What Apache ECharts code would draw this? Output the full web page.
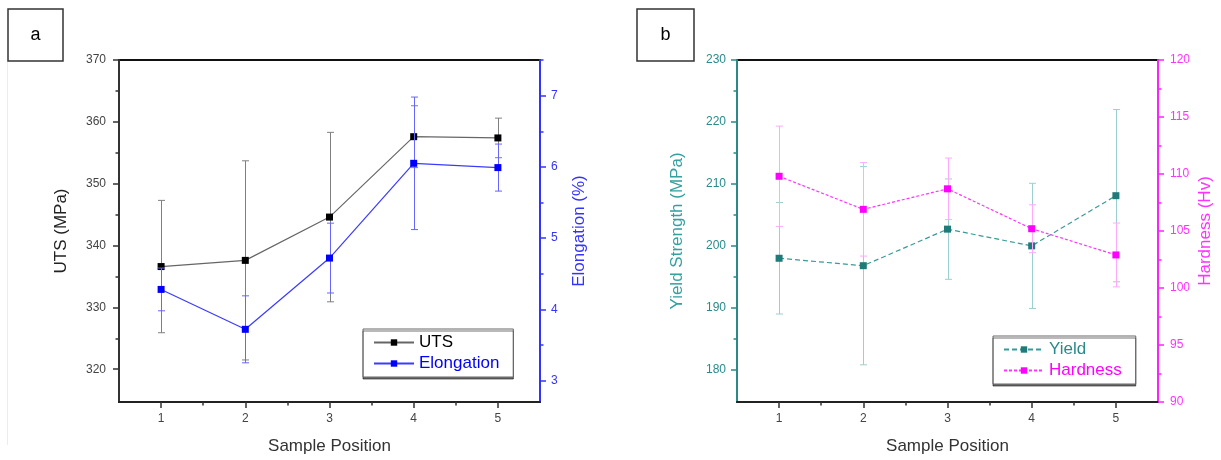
<!DOCTYPE html>
<html><head><meta charset="utf-8">
<script src="https://cdn.jsdelivr.net/npm/echarts@6/dist/echarts.min.js"></script>
<style>html,body{margin:0;padding:0;background:#fff}#c{width:1221px;height:460px}</style>
</head><body><div id="c"></div>
<script>
// ---------- data ----------
const positions = [1, 2, 3, 4, 5];
const utsValues = [336.6, 337.6, 344.6, 357.6, 357.4];
const utsErrors = [10.7, 16.1, 13.7, 5.0, 3.2];
const elongValues = [4.28, 3.72, 4.72, 6.05, 5.99];
const elongErrors = [0.30, 0.47, 0.49, 0.93, 0.33];
const yieldValues = [198.0, 196.8, 202.7, 200.0, 208.1];
const yieldErrors = [9.0, 16.0, 8.1, 10.1, 13.9];
const hardnessValues = [109.8, 106.9, 108.7, 105.2, 102.9];
const hardnessErrors = [4.4, 4.1, 2.7, 2.1, 2.8];

// tick labels
const positionTicks = [1, 2, 3, 4, 5];
const positionMinor = [1.5, 2.5, 3.5, 4.5];
const utsTicks = [320, 330, 340, 350, 360, 370];
const utsMinor = [325, 335, 345, 355, 365];
const elongTicks = [3, 4, 5, 6, 7];
const elongMinor = [3.5, 4.5, 5.5, 6.5, 7.5];
const yieldTicks = [180, 190, 200, 210, 220, 230];
const yieldMinor = [185, 195, 205, 215, 225];
const hardnessTicks = [90, 95, 100, 105, 110, 115, 120];
const hardnessMinor = [92.5, 97.5, 102.5, 107.5, 112.5, 117.5];

// ---------- chart ----------
const FONT = 'Liberation Sans, Arial, sans-serif';
const chart = echarts.init(document.getElementById('c'), null, {renderer: 'canvas'});

function xMajor(g) {
  return {
    type: 'value', gridIndex: g, min: 0.5, max: 5.5, position: 'bottom',
    axisLine: {show: true, lineStyle: {color: '#222', width: 2}},
    axisTick: {show: true, customValues: positionTicks, length: 6, lineStyle: {color: '#333', width: 1.5}},
    axisLabel: {customValues: positionTicks, margin: 11, fontSize: 12, color: '#444', fontFamily: FONT},
    splitLine: {show: false},
    name: 'Sample Position', nameLocation: 'middle', nameGap: 36,
    nameTextStyle: {fontSize: 17, color: '#333', fontFamily: FONT}
  };
}
function xMinor(g) {
  return {
    type: 'value', gridIndex: g, min: 0.5, max: 5.5, position: 'bottom',
    axisLine: {show: false},
    axisTick: {show: true, customValues: positionMinor, length: 3.5, lineStyle: {color: '#333', width: 1.5}},
    axisLabel: {show: false}, splitLine: {show: false}
  };
}
function yMajor(g, pos, min, max, ticks, lineColor, labelColor, name, nameGap, nameColor, margin) {
  return {
    type: 'value', gridIndex: g, position: pos, min: min, max: max,
    axisLine: {show: true, lineStyle: {color: lineColor, width: 2}},
    axisTick: {show: true, customValues: ticks, length: 6, lineStyle: {color: lineColor, width: 1.5}},
    axisLabel: {customValues: ticks, margin: margin, fontSize: 12, color: labelColor, fontFamily: FONT},
    splitLine: {show: false},
    name: name, nameLocation: 'middle', nameRotate: 90, nameGap: nameGap,
    nameTextStyle: {fontSize: 17, color: nameColor, fontFamily: FONT}
  };
}
function yMinor(g, pos, min, max, ticks, lineColor) {
  return {
    type: 'value', gridIndex: g, position: pos, min: min, max: max,
    axisLine: {show: false},
    axisTick: {show: true, customValues: ticks, length: 3.5, lineStyle: {color: lineColor, width: 1.5}},
    axisLabel: {show: false}, splitLine: {show: false}
  };
}
function errorBars(name, values, errors, xi, yi, color, z) {
  return {
    type: 'custom', name: name, xAxisIndex: xi, yAxisIndex: yi, silent: true, z: z,
    data: positions.map((p, i) => [p, values[i] - errors[i], values[i] + errors[i]]),
    encode: {x: 0, y: [1, 2]},
    renderItem: function (params, api) {
      const lo = api.coord([api.value(0), api.value(1)]);
      const hi = api.coord([api.value(0), api.value(2)]);
      const x = Math.round(lo[0]) + 0.5;
      const cap = 3.5;
      const st = {stroke: color, lineWidth: 1};
      return {type: 'group', children: [
        {type: 'line', shape: {x1: x, y1: lo[1], x2: x, y2: hi[1]}, style: st},
        {type: 'line', shape: {x1: x - cap, y1: lo[1], x2: x + cap, y2: lo[1]}, style: st},
        {type: 'line', shape: {x1: x - cap, y1: hi[1], x2: x + cap, y2: hi[1]}, style: st}
      ]};
    }
  };
}
function lineSeries(name, values, xi, yi, lineColor, markerColor, dash, z) {
  return {
    type: 'line', name: name, xAxisIndex: xi, yAxisIndex: yi, z: z,
    data: positions.map((p, i) => [p, values[i]]),
    symbol: 'rect', symbolSize: 7,
    lineStyle: {color: lineColor, width: 1.2, type: dash},
    itemStyle: {color: markerColor},
    emphasis: {disabled: true}
  };
}
function legend(left, top, items) {
  return {
    orient: 'vertical', left: left, top: top,
    data: items,
    itemWidth: 40, itemHeight: 8, itemGap: 4, itemTextGap: 5,
    padding: [5, 14, 5, 10],
    backgroundColor: '#fff', borderColor: '#666', borderWidth: 1,
    shadowColor: 'rgba(0,0,0,0.55)', shadowOffsetY: 2, shadowBlur: 0,
    textStyle: {fontSize: 17, fontFamily: FONT},
    selectedMode: false
  };
}

const UTS_C = '#000000', ELO_C = '#0000ff', YLD_C = '#1f7a7a', HRD_C = '#ff00ff';

const option = {
  animation: false,
  backgroundColor: '#ffffff',
  grid: [
    {left: 119, top: 60, width: 421, height: 343, show: true, borderColor: '#111', borderWidth: 2, backgroundColor: 'transparent'},
    {left: 737, top: 60, width: 421, height: 342, show: true, borderColor: '#111', borderWidth: 2, backgroundColor: 'transparent'}
  ],
  xAxis: [xMajor(0), xMinor(0), xMajor(1), xMinor(1)],
  yAxis: [
    yMajor(0, 'left', 314.7, 370, utsTicks, '#333', '#444', 'UTS (MPa)', 49, '#222', 13),
    yMajor(0, 'right', 2.7, 7.5, elongTicks, '#3333ff', '#3333ff', 'Elongation (%)', 31, '#3333ff', 11),
    yMinor(0, 'left', 314.7, 370, utsMinor, '#333'),
    yMinor(0, 'right', 2.7, 7.5, elongMinor, '#3333ff'),
    yMajor(1, 'left', 174.8, 230, yieldTicks, '#2a8a8a', '#2a8a8a', 'Yield Strength (MPa)', 51, '#35a0a0', 11),
    yMajor(1, 'right', 90, 120, hardnessTicks, '#ff22ff', '#ff33ff', 'Hardness (Hv)', 39, '#ff33ff', 12),
    yMinor(1, 'left', 174.8, 230, yieldMinor, '#2a8a8a'),
    yMinor(1, 'right', 90, 120, hardnessMinor, '#ff22ff')
  ],
  legend: [
    legend(363, 329, [{name: 'UTS', textStyle: {color: '#000'}}, {name: 'Elongation', textStyle: {color: '#0000ff'}}]),
    legend(993, 336, [{name: 'Yield', textStyle: {color: '#2a8a8a'}}, {name: 'Hardness', textStyle: {color: '#ff00ff'}}])
  ],
  series: [
    errorBars('UTS err', utsValues, utsErrors, 0, 0, '#808080', 1),
    lineSeries('UTS', utsValues, 0, 0, '#666666', UTS_C, 'solid', 2),
    errorBars('Elongation err', elongValues, elongErrors, 0, 1, '#6666ff', 3),
    lineSeries('Elongation', elongValues, 0, 1, '#3b3bff', ELO_C, 'solid', 4),
    errorBars('Yield err', yieldValues, yieldErrors, 2, 4, '#9ccfcf', 1),
    lineSeries('Yield', yieldValues, 2, 4, '#3a9a9a', YLD_C, [5, 3], 2),
    errorBars('Hardness err', hardnessValues, hardnessErrors, 2, 5, '#ffaaff', 3),
    lineSeries('Hardness', hardnessValues, 2, 5, '#ff33ff', HRD_C, [3, 2], 4)
  ],
  graphic: [
    {type: 'line', shape: {x1: 7.5, y1: 61, x2: 7.5, y2: 445}, style: {stroke: '#ececec', lineWidth: 1}},
    {type: 'rect', shape: {x: 8, y: 9, width: 55, height: 52}, style: {fill: '#fff', stroke: '#333', lineWidth: 1.5}},
    {type: 'text', style: {text: 'a', x: 35.5, y: 35, textAlign: 'center', textVerticalAlign: 'middle', font: '18px Liberation Sans', fill: '#000'}},
    {type: 'rect', shape: {x: 637, y: 9, width: 57, height: 52}, style: {fill: '#fff', stroke: '#333', lineWidth: 1.5}},
    {type: 'text', style: {text: 'b', x: 665.5, y: 35, textAlign: 'center', textVerticalAlign: 'middle', font: '18px Liberation Sans', fill: '#000'}}
  ]
};
chart.setOption(option);
</script>
</body></html>
